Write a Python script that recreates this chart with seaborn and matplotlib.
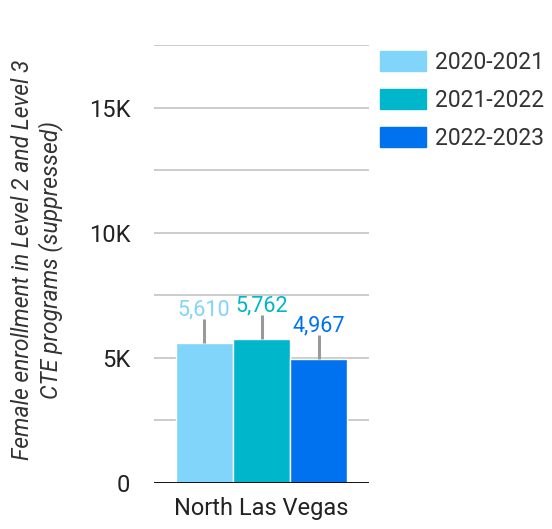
import matplotlib
matplotlib.use("Agg")
import matplotlib.pyplot as plt
import matplotlib.ticker as mticker
import pandas as pd
import seaborn as sns

district = ["North Las Vegas"]
years = ["2020-2021", "2021-2022", "2022-2023"]
enrollment = [5610, 5762, 4967]
err_up = [950, 958, 953]
colors = ["#81D4FA", "#00B6CB", "#0072F0"]

df = pd.DataFrame({
    "district": district * len(years),
    "year": years,
    "value": enrollment,
})

sns.set_style("white")
plt.rcParams["font.family"] = ["Roboto", "DejaVu Sans"]

fig = plt.figure(figsize=(5.52, 5.29), dpi=100)
W, H = 552, 529
ax = fig.add_axes([154 / W, (H - 483) / H, 215 / W, (483 - 45) / H])

sns.barplot(data=df, x="district", y="value", hue="year", palette=colors,
            saturation=1, width=0.8, edgecolor="white", linewidth=1,
            errorbar=None, legend=False, ax=ax)

# one-sided whiskers and value labels
for cont, err, col, val in zip(ax.containers, err_up, colors, enrollment):
    bar = cont.patches[0]
    xc = bar.get_x() + bar.get_width() / 2
    top = bar.get_height()
    ax.errorbar([xc], [top], yerr=[[0], [err]], fmt="none", ecolor="#999999",
                elinewidth=2.2, capsize=0, zorder=3)
    ax.annotate(f"{val:,}", (xc, top + err), xytext=(0, 3),
                textcoords="offset pixels", ha="center", va="baseline",
                color=col, fontsize=15.5)

ax.set_ylim(0, 17500)
ax.set_xlim(-0.5, 0.5)
ax.yaxis.set_major_locator(mticker.MultipleLocator(2500))
ax.yaxis.set_major_formatter(mticker.FuncFormatter(
    lambda v, p: "0" if v == 0 else (f"{int(v / 1000)}K" if v % 5000 == 0 else "")))
ax.grid(axis="y", color="#cccccc", linewidth=1.4)
ax.set_axisbelow(True)
ax.axhline(0, color="black", linewidth=2, zorder=4)
for s in ["top", "right", "left", "bottom"]:
    ax.spines[s].set_visible(False)
ax.tick_params(axis="y", length=0, pad=17, labelsize=17, labelcolor="#222222")
ax.tick_params(axis="x", length=0, pad=10, labelsize=17, labelcolor="#222222")
ax.set_xlabel("")
ax.set_ylabel("Female enrollment in Level 2 and Level 3\nCTE programs (suppressed)",
              fontsize=16.5, style="italic", color="#333333", linespacing=1.2)
ax.yaxis.set_label_coords(-0.425, 0.51)

handles = [plt.Rectangle((0, 0), 1, 1, color=c) for c in colors]
fig.legend(handles, years, loc="upper left",
           bbox_to_anchor=(380 / W, 1 - 51 / H), frameon=False,
           fontsize=16.5, handlelength=2.0, handleheight=0.95,
           handletextpad=0.42, labelspacing=0.65, borderpad=0,
           borderaxespad=0, labelcolor="#333333")

fig.savefig("out.png", dpi=100)
